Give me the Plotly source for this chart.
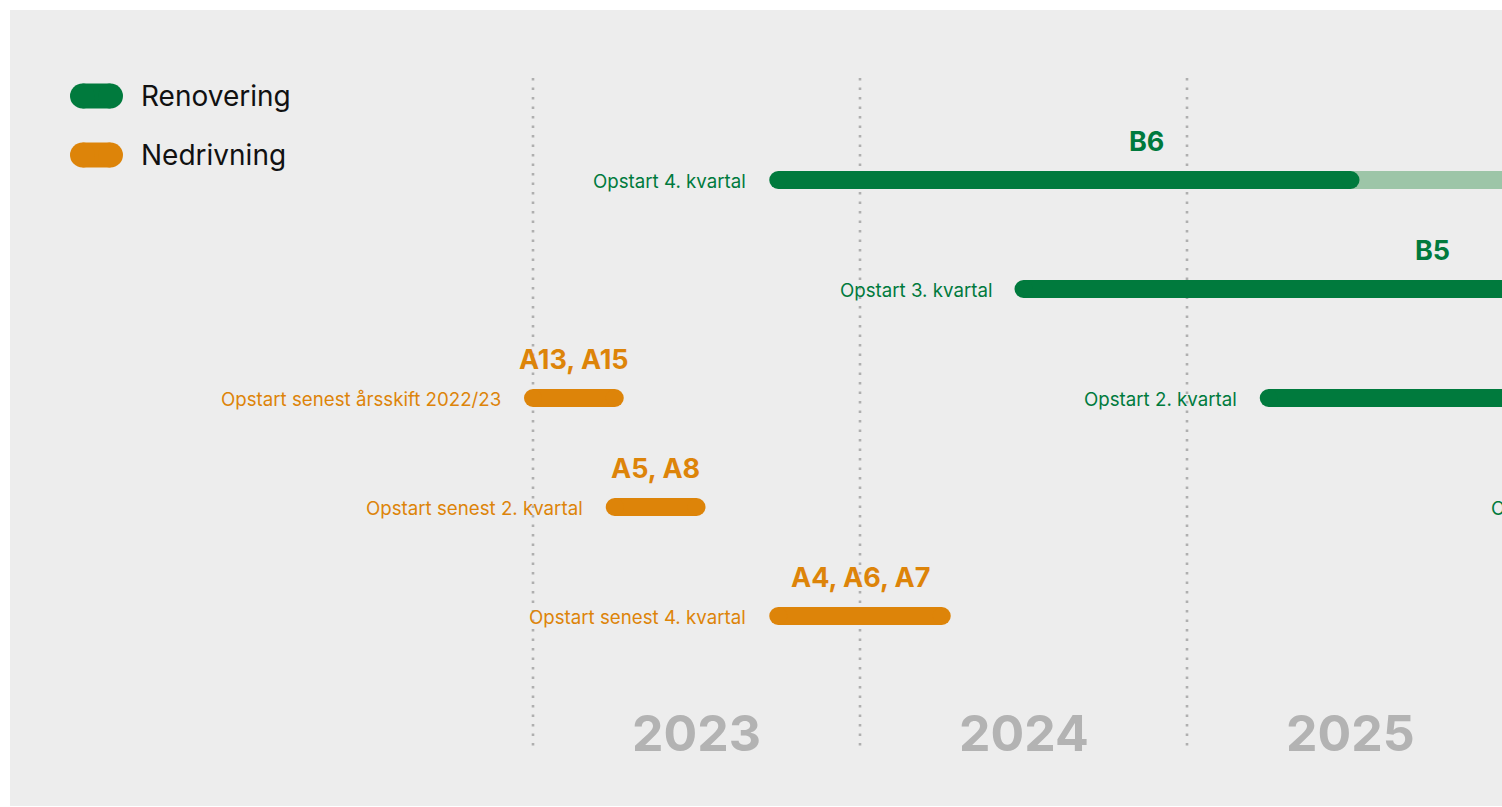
import plotly.graph_objects as go

# ---------------- data ----------------
years = [2023, 2024, 2025]
year_labels = ["2023", "2024", "2025"]

legend_names = ["Renovering", "Nedrivning"]

proj_titles = ["B6", "B5", "", "", "A13, A15", "A5, A8", "A4, A6, A7"]
proj_types = ["Renovering", "Renovering", "Renovering", "Renovering",
              "Nedrivning", "Nedrivning", "Nedrivning"]
proj_rows = [0, 1, 2, 3, 2, 3, 4]
proj_start = [2023.75, 2024.5, 2025.25, 2026.5, 2023.0, 2023.25, 2023.75]
proj_end = [2026.0, 2027.0, 2027.5, 2028.5, 2023.25, 2023.5, 2024.25]
proj_solid_end = [2025.5, 2027.0, 2027.5, 2028.5, 2023.25, 2023.5, 2024.25]
proj_labels = ["Opstart 4. kvartal", "Opstart 3. kvartal", "Opstart 2. kvartal",
               "Opstart 3. kvartal", "Opstart senest årsskift 2022/23",
               "Opstart senest 2. kvartal", "Opstart senest 4. kvartal"]

# ---------------- style ----------------
GREEN = "#007A3D"
GREEN_LIGHT = "#9DC5A8"
ORANGE = "#DD8409"
BG = "#EDEDED"
GREY_TXT = "#B3B3B3"
DOT = "#AFAFAF"
FONT = "Inter"
colors = {"Renovering": GREEN, "Nedrivning": ORANGE}

W, H = 1502, 807
ML, MT, MR, MB = 10, 10, 0, 1
REF_YEAR, REF_PX, PX_PER_YEAR = 2023, 533, 327
ROW0_PX, ROW_PX = 180, 109
BAR_W = 18
LABEL_SIZE = 18.7
LABEL_GAP = 30          # px between label text and bar start
CHAR_W = 8.8            # approx px per char of label text (for off-range anchors)

def px_to_year(px):
    return REF_YEAR + (px - REF_PX) / PX_PER_YEAR

def py_to_row(py):
    return (py - ROW0_PX) / ROW_PX

x_lo, x_hi = px_to_year(ML), px_to_year(W - MR)

fig = go.Figure()

# bars
for t, r, s, e, se in zip(proj_types, proj_rows, proj_start, proj_end, proj_solid_end):
    c = colors[t]
    if e > se:
        fig.add_trace(go.Scatter(
            x=[se, e], y=[r, r], mode="lines+markers",
            line=dict(color=GREEN_LIGHT, width=BAR_W),
            marker=dict(color=GREEN_LIGHT, size=BAR_W, line=dict(width=0)),
            hoverinfo="skip", showlegend=False))
    fig.add_trace(go.Scatter(
        x=[s, se], y=[r, r], mode="lines+markers",
        line=dict(color=c, width=BAR_W),
        marker=dict(color=c, size=BAR_W, line=dict(width=0)),
        hoverinfo="skip", showlegend=False))

# legend pills (pixel overlay axes)
for i, name in enumerate(legend_names):
    py = 96 + i * 59
    fig.add_trace(go.Scatter(
        x=[82.5, 110.5], y=[py, py], xaxis="x2", yaxis="y2",
        mode="lines+markers",
        line=dict(color=colors[name], width=25),
        marker=dict(color=colors[name], size=25, line=dict(width=0)),
        hoverinfo="skip", showlegend=False))
    fig.add_annotation(x=139, y=py, xref="x2", yref="y2", text=name,
                       showarrow=False, xanchor="left", yanchor="middle",
                       font=dict(family=FONT, size=28, color="#111111"))

# dotted year separators
for y in years:
    fig.add_shape(type="line", x0=y, x1=y, y0=78, y1=748, xref="x", yref="y2",
                  line=dict(color=DOT, width=2.6, dash="2.6px,6.9px"), layer="below")

# year labels
for y, lab in zip(years, year_labels):
    fig.add_annotation(x=y + 0.5, y=733, xref="x", yref="y2", text=lab,
                       showarrow=False, xanchor="center", yanchor="middle",
                       font=dict(family=FONT, size=50, color=GREY_TXT, weight=700))

# project labels and titles
for title, t, r, s, e, lab in zip(proj_titles, proj_types, proj_rows,
                                   proj_start, proj_end, proj_labels):
    c = colors[t]
    lfont = dict(family=FONT, size=LABEL_SIZE, color=c)
    if x_lo <= s <= x_hi:
        fig.add_annotation(x=s, y=r, xref="x", yref="y", text=lab, showarrow=False,
                           xanchor="right", yanchor="middle", xshift=-LABEL_GAP,
                           yshift=-1, font=lfont)
    else:
        # anchor off-range: place by left edge so the visible part still shows
        left = s - (LABEL_GAP + CHAR_W * len(lab)) / PX_PER_YEAR
        if left <= x_hi:
            fig.add_annotation(x=left, y=r, xref="x", yref="y", text=lab,
                               showarrow=False, xanchor="left", yanchor="middle",
                               yshift=-1, font=lfont)
    if title:
        fig.add_annotation(x=(s + e) / 2, y=r, xref="x", yref="y", text=title,
                           showarrow=False, xanchor="center", yanchor="middle",
                           yshift=39,
                           font=dict(family=FONT, size=27, color=c, weight=700))

fig.update_layout(
    width=W, height=H,
    margin=dict(l=ML, r=MR, t=MT, b=MB, pad=0),
    paper_bgcolor="white", plot_bgcolor=BG,
    xaxis=dict(range=[x_lo, x_hi], visible=False, fixedrange=True),
    yaxis=dict(range=[py_to_row(H - MB), py_to_row(MT)], visible=False,
               fixedrange=True),
    xaxis2=dict(range=[ML, W - MR], overlaying="x", visible=False, fixedrange=True),
    yaxis2=dict(range=[H - MB, MT], overlaying="y", visible=False, fixedrange=True),
    showlegend=False,
)

fig.write_html("out.html", config={"displayModeBar": False})
